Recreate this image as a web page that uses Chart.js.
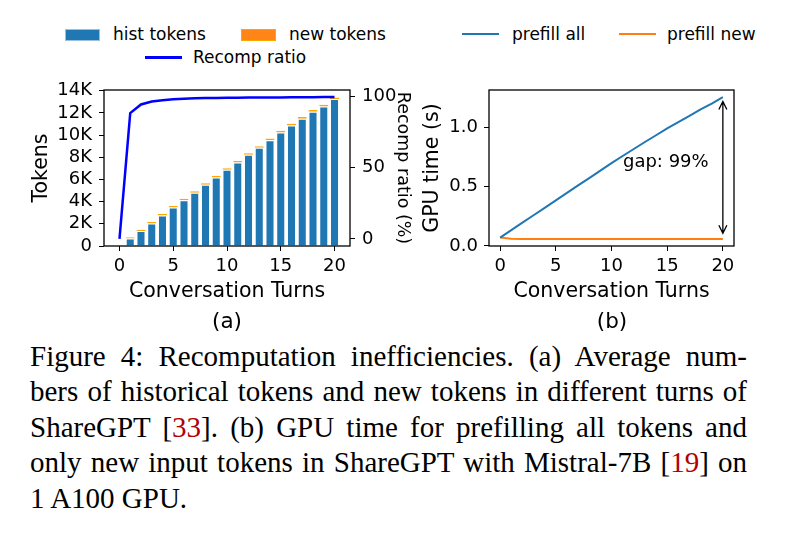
<!DOCTYPE html>
<html>
<head>
<meta charset="utf-8">
<script src="https://cdn.jsdelivr.net/npm/chart.js@4.4.1/dist/chart.umd.min.js"></script>
<style>
  body { margin: 0; width: 789px; height: 541px; background: #fff; position: relative; overflow: hidden; font-family: 'DejaVu Sans', sans-serif; color: #000; }
  .abs { position: absolute; }
  #wrap1 { left: 0; top: 70px; width: 420px; height: 245px; }
  #wrap2 { left: 415px; top: 70px; width: 374px; height: 245px; }
  .lg { font-size: 17px; line-height: 20px; white-space: nowrap; }
  .patch { height: 12px; width: 35px; box-sizing: border-box; }
  .lline { width: 37px; }
  .sub { font-size: 21.5px; line-height: 24px; width: 80px; text-align: center; }
  .cap { font-family: 'Liberation Serif', serif; font-size: 29px; line-height: 35.5px; left: 30px; width: 717px; text-align: justify; text-align-last: justify; }
  .cap.last { text-align: left; text-align-last: left; }
  .ref { color: #b30000; }
</style>
</head>
<body>

<!-- legends -->
<div class="abs patch" style="left:65px;top:29px;background:#1f77b4;border:1px solid #9cc0dc;"></div>
<div class="abs lg" style="left:113px;top:24px;">hist tokens</div>
<div class="abs patch" style="left:241px;top:29px;background:#ff8616;border:1px solid #ffa500;"></div>
<div class="abs lg" style="left:289px;top:24px;">new tokens</div>
<div class="abs lline" style="left:145px;top:56px;height:2.5px;background:#0000ff;"></div>
<div class="abs lg" style="left:193px;top:47px;">Recomp ratio</div>
<div class="abs lline" style="left:462px;top:33px;height:2px;background:#1f77b4;"></div>
<div class="abs lg" style="left:512px;top:24px;">prefill all</div>
<div class="abs lline" style="left:619px;top:33px;height:2px;background:#ff7f0e;"></div>
<div class="abs lg" style="left:667px;top:24px;">prefill new</div>

<div id="wrap1" class="abs"><canvas id="chart-a" width="420" height="245"></canvas></div>
<div id="wrap2" class="abs"><canvas id="chart-b" width="374" height="245"></canvas></div>

<div class="abs sub" style="left:187px;top:309px;">(a)</div>
<div class="abs sub" style="left:572px;top:309px;">(b)</div>

<div class="abs cap" style="top:338.5px;">Figure 4: Recomputation inefficiencies. (a) Average num-</div>
<div class="abs cap" style="top:374px;">bers of historical tokens and new tokens in different turns of</div>
<div class="abs cap" style="top:409.5px;">ShareGPT [<span class="ref">33</span>]. (b) GPU time for prefilling all tokens and</div>
<div class="abs cap" style="top:445px;">only new input tokens in ShareGPT with Mistral-7B [<span class="ref">19</span>] on</div>
<div class="abs cap last" style="top:480.5px;">1 A100 GPU.</div>

<script>
// data
const turns = [0, 1, 2, 3, 4, 5, 6, 7, 8, 9, 10, 11, 12, 13, 14, 15, 16, 17, 18, 19, 20];
const histTokens = [0, 670, 1345, 2040, 2755, 3475, 4133, 4803, 5520, 6180, 6880, 7527, 8227, 8855, 9545, 10245, 10873, 11483, 12110, 12590, 13250];
const newTokens = [0, 120, 125, 130, 135, 135, 137, 137, 140, 140, 140, 143, 143, 145, 145, 145, 147, 147, 150, 150, 150];
const recompRatio = [0, 88.4, 94.4, 96.5, 97.4, 98.1, 98.4, 98.7, 98.9, 99.0, 99.1, 99.2, 99.3, 99.3, 99.4, 99.4, 99.5, 99.5, 99.5, 99.6, 99.6];
const prefillAll = [0.070, 0.133, 0.196, 0.258, 0.320, 0.383, 0.446, 0.509, 0.571, 0.634, 0.697, 0.757, 0.816, 0.875, 0.932, 0.990, 1.043, 1.095, 1.150, 1.198, 1.253];
const prefillNew = [0.070, 0.060, 0.059, 0.059, 0.059, 0.059, 0.058, 0.058, 0.058, 0.058, 0.058, 0.058, 0.058, 0.058, 0.058, 0.058, 0.058, 0.058, 0.058, 0.058, 0.058];

const turnTicks = [0, 5, 10, 15, 20];
const tokenTicks = [0, 2000, 4000, 6000, 8000, 10000, 12000, 14000];
const tokenTickLabels = ['0', '2K', '4K', '6K', '8K', '10K', '12K', '14K'];
const ratioTicks = [0, 50, 100];
const gpuTicks = [0, 0.5, 1.0];
const gpuTickLabels = ['0.0', '0.5', '1.0'];

// annotation in panel (b), data coordinates
const arrowAt = 20;
const arrowTop = 1.216;
const arrowBottom = 0.107;
const gapLabel = 'gap: 99%';
const gapLabelAt = [11.03, 0.70];

Chart.defaults.font.family = "'DejaVu Sans', sans-serif";
Chart.defaults.color = '#000';
Chart.defaults.animation = false;

const pts = (ys) => turns.map((t, i) => ({ x: t, y: ys[i] }));
const setTicks = (vals) => (scale) => { scale.ticks = vals.map(v => ({ value: v })); };

const frame = {
  id: 'frame',
  afterDatasetsDraw(chart) {
    const { ctx, chartArea: a } = chart;
    ctx.save();
    ctx.strokeStyle = '#000';
    ctx.lineWidth = 1.3;
    ctx.strokeRect(a.left, a.top, a.right - a.left, a.bottom - a.top);
    ctx.restore();
  }
};

const gapArrow = {
  id: 'gapArrow',
  afterDatasetsDraw(chart) {
    const { ctx, scales: { x, y } } = chart;
    const px = x.getPixelForValue(arrowAt);
    const top = y.getPixelForValue(arrowTop);
    const bot = y.getPixelForValue(arrowBottom);
    ctx.save();
    ctx.strokeStyle = '#000';
    ctx.lineWidth = 1.3;
    ctx.beginPath();
    ctx.moveTo(px, top);
    ctx.lineTo(px, bot);
    ctx.moveTo(px - 4, top + 8);
    ctx.lineTo(px, top);
    ctx.lineTo(px + 4, top + 8);
    ctx.moveTo(px - 4, bot - 8);
    ctx.lineTo(px, bot);
    ctx.lineTo(px + 4, bot - 8);
    ctx.stroke();
    ctx.fillStyle = '#000';
    ctx.font = "18px 'DejaVu Sans'";
    ctx.textAlign = 'left';
    ctx.textBaseline = 'middle';
    ctx.fillText(gapLabel, x.getPixelForValue(gapLabelAt[0]), y.getPixelForValue(gapLabelAt[1]));
    ctx.restore();
  }
};

const tickGrid = { display: true, drawOnChartArea: false, drawTicks: true, tickLength: 5, color: '#000', offset: false };
const tickFont = { size: 18 };
const titleFont = { size: 20.5 };

new Chart(document.getElementById('chart-a'), {
  type: 'bar',
  data: {
    datasets: [{
      type: 'line',
      label: 'Recomp ratio',
      data: pts(recompRatio),
      yAxisID: 'y1',
      borderColor: '#0000ff',
      borderWidth: 2.5,
      pointRadius: 0,
      tension: 0,
      order: 0
    }, {
      label: 'hist tokens',
      data: pts(histTokens),
      backgroundColor: '#1f77b4',
      borderColor: 'rgba(255,255,255,0.55)',
      borderWidth: 1,
      barPercentage: 0.84,
      categoryPercentage: 1,
      order: 1
    }, {
      label: 'new tokens',
      data: pts(newTokens),
      backgroundColor: '#ff7f0e',
      borderColor: '#ffa500',
      borderWidth: 1,
      borderSkipped: false,
      barPercentage: 0.84,
      categoryPercentage: 1,
      order: 1
    }]
  },
  options: {
    responsive: false,
    maintainAspectRatio: false,
    layout: { padding: { top: 20, right: 0, bottom: 0, left: 0 } },
    plugins: {
      legend: { display: false },
      tooltip: { enabled: false }
    },
    scales: {
      x: {
        type: 'linear',
        min: -1.44,
        max: 21.44,
        offset: false,
        stacked: true,
        afterBuildTicks: setTicks(turnTicks),
        afterFit: (s) => { s.height = 69; },
        grid: tickGrid,
        border: { display: false },
        ticks: { font: tickFont, padding: 5, maxRotation: 0, autoSkip: false, callback: (v) => String(v) },
        title: { display: true, text: 'Conversation Turns', font: titleFont, padding: { top: 0, bottom: 11.5 } }
      },
      y: {
        position: 'left',
        min: 0,
        max: 14070,
        stacked: true,
        afterBuildTicks: setTicks(tokenTicks),
        afterFit: (s) => { s.width = 104; },
        grid: tickGrid,
        border: { display: false },
        ticks: { font: tickFont, padding: 7, autoSkip: false, callback: (v, i) => tokenTickLabels[i] },
        title: { display: true, text: 'Tokens', font: titleFont, padding: { top: 29, bottom: 0 } }
      },
      y1: {
        position: 'right',
        min: -4.98,
        max: 104.58,
        afterBuildTicks: setTicks(ratioTicks),
        afterFit: (s) => { s.width = 70; },
        grid: tickGrid,
        border: { display: false },
        ticks: { font: tickFont, padding: 7, autoSkip: false, callback: (v) => String(v) },
        title: { display: true, text: 'Recomp ratio (%)', font: { size: 17.5 }, padding: { top: 6.5, bottom: 0 } }
      }
    }
  },
  plugins: [frame]
});

new Chart(document.getElementById('chart-b'), {
  type: 'line',
  data: {
    datasets: [{
      label: 'prefill all',
      data: pts(prefillAll),
      borderColor: '#1f77b4',
      borderWidth: 2,
      pointRadius: 0,
      tension: 0
    }, {
      label: 'prefill new',
      data: pts(prefillNew),
      borderColor: '#ff7f0e',
      borderWidth: 2,
      pointRadius: 0,
      tension: 0
    }]
  },
  options: {
    responsive: false,
    maintainAspectRatio: false,
    layout: { padding: { top: 20, right: 55, bottom: 0, left: 0 } },
    plugins: {
      legend: { display: false },
      tooltip: { enabled: false }
    },
    scales: {
      x: {
        type: 'linear',
        min: -1,
        max: 21,
        afterBuildTicks: setTicks(turnTicks),
        afterFit: (s) => { s.height = 69; },
        grid: tickGrid,
        border: { display: false },
        ticks: { font: tickFont, padding: 5, maxRotation: 0, autoSkip: false, callback: (v) => String(v) },
        title: { display: true, text: 'Conversation Turns', font: titleFont, padding: { top: 0, bottom: 11.5 } }
      },
      y: {
        min: -0.001,
        max: 1.313,
        afterBuildTicks: setTicks(gpuTicks),
        afterFit: (s) => { s.width = 74; },
        grid: tickGrid,
        border: { display: false },
        ticks: { font: tickFont, padding: 6, autoSkip: false, callback: (v, i) => gpuTickLabels[i] },
        title: { display: true, text: 'GPU time (s)', font: titleFont, padding: { top: 5, bottom: 0 } }
      }
    }
  },
  plugins: [frame, gapArrow]
});
</script>
</body>
</html>
